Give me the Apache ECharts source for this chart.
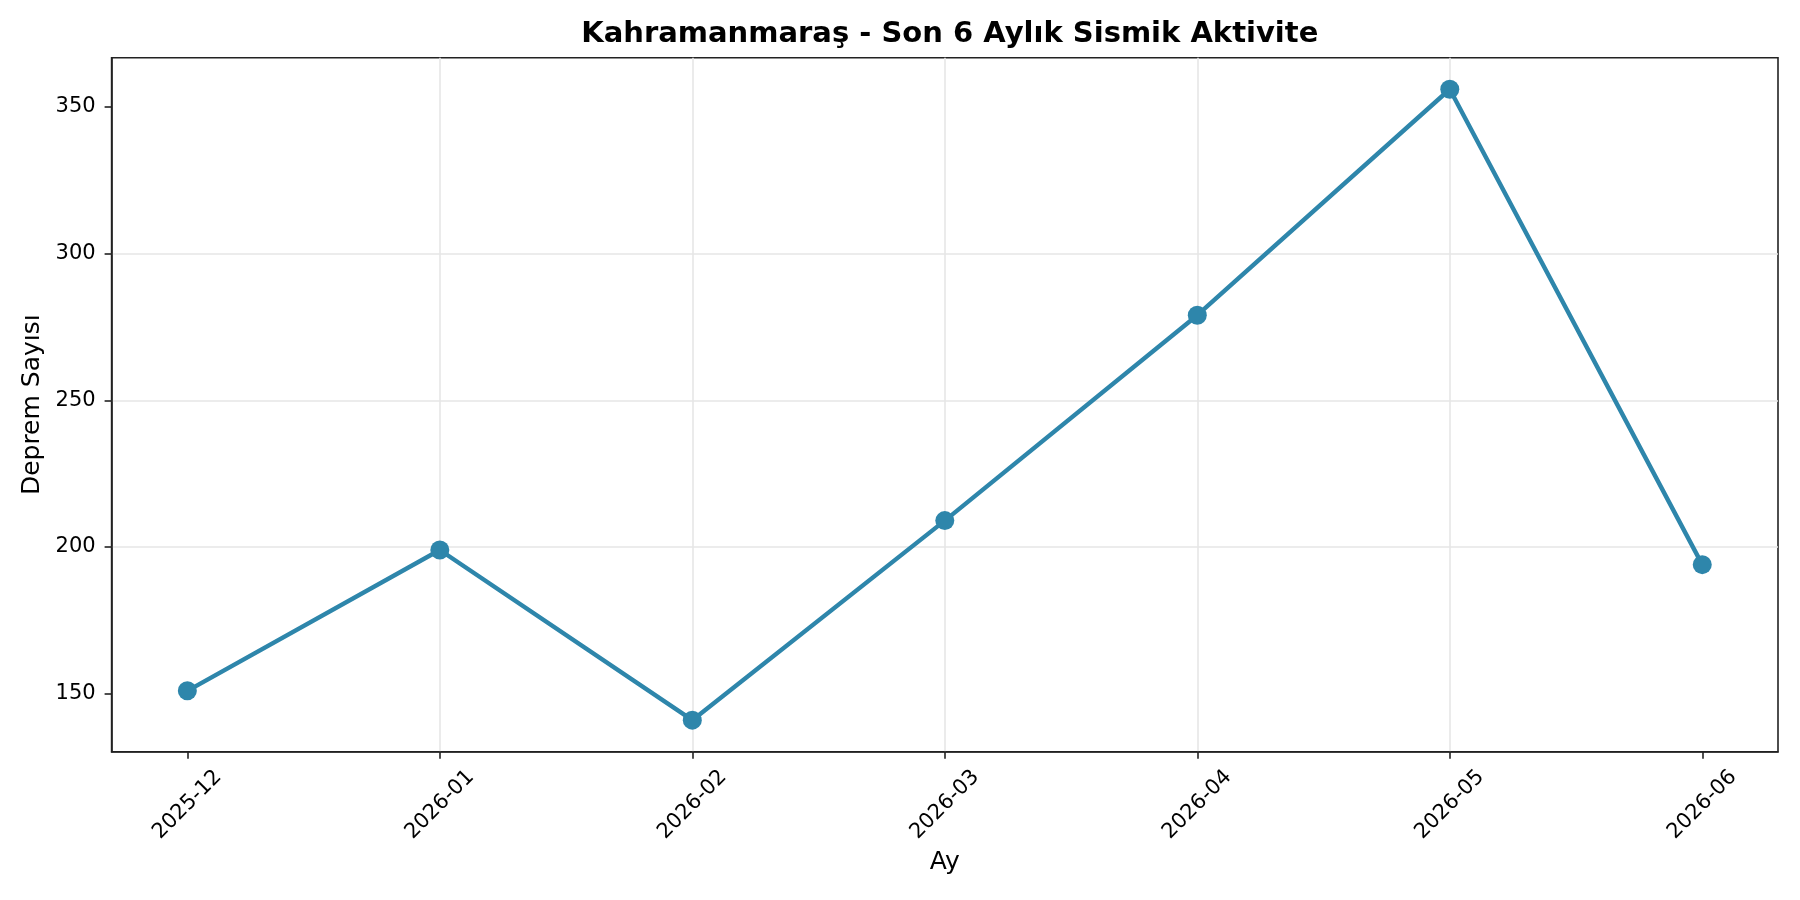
<!DOCTYPE html>
<html>
<head>
<meta charset="utf-8">
<script src="https://cdn.jsdelivr.net/npm/echarts@6/dist/echarts.min.js"></script>
<style>
html,body{margin:0;padding:0;background:#fff;}
#chart{width:1800px;height:900px;}
</style>
</head>
<body>
<div id="chart"></div>
<script>
const months = ['2025-12','2026-01','2026-02','2026-03','2026-04','2026-05','2026-06'];
const quakeCounts = [151, 199, 141, 209, 279, 356, 194];
const yTicks = [150, 200, 250, 300, 350];
const monthIdx = months.map((m, i) => i);

const lineData = quakeCounts.map((v, i) => [monthIdx[i], v]);
const font = 'DejaVu Sans';

const chart = echarts.init(document.getElementById('chart'), null, {renderer: 'canvas'});
chart.setOption({
  animation: false,
  backgroundColor: '#ffffff',
  title: {
    text: 'Kahramanmaraş - Son 6 Aylık Sismik Aktivite',
    left: 944.8, textAlign: 'center', top: 15,
    textStyle: {fontFamily: font, fontSize: 29, fontWeight: 'bold', color: '#000'}
  },
  grid: {
    left: 111.6, right: 22, top: 57.7, bottom: 148.3,
    show: true, borderColor: '#222', borderWidth: 1.6, backgroundColor: 'transparent'
  },
  xAxis: {
    type: 'value',
    min: -0.3, max: 6.3,
    minInterval: 1, maxInterval: 1,
    name: 'Ay', nameLocation: 'middle', nameGap: 96,
    nameTextStyle: {fontFamily: font, fontSize: 25, color: '#000'},
    axisLine: {show: true, onZero: false, lineStyle: {color: '#222', width: 1.6}},
    axisTick: {show: true, length: 7, customValues: monthIdx, lineStyle: {color: '#222', width: 1.6}},
    axisLabel: {
      customValues: monthIdx,
      formatter: v => months[Math.round(v)] || '',
      rotate: 45, align: 'center', verticalAlign: 'middle', margin: 53,
      fontFamily: font, fontSize: 21, color: '#000'
    },
    splitLine: {show: true, showMinLine: false, showMaxLine: false, lineStyle: {color: '#e6e6e6', width: 1.6}}
  },
  yAxis: {
    type: 'value',
    min: 130.25, max: 366.75,
    minInterval: 50, maxInterval: 50,
    name: 'Deprem Sayısı', nameLocation: 'middle', nameGap: 64,
    nameTextStyle: {fontFamily: font, fontSize: 25, color: '#000'},
    axisLine: {show: true, onZero: false, lineStyle: {color: '#222', width: 1.6}},
    axisTick: {show: true, length: 7, customValues: yTicks, lineStyle: {color: '#222', width: 1.6}},
    axisLabel: {customValues: yTicks, margin: 16, fontFamily: font, fontSize: 21, color: '#000'},
    splitLine: {show: true, showMinLine: false, showMaxLine: false, lineStyle: {color: '#e6e6e6', width: 1.6}}
  },
  series: [{
    type: 'line',
    data: lineData,
    symbol: 'circle', symbolSize: 19,
    lineStyle: {color: '#2E86AB', width: 4.4},
    itemStyle: {color: '#2E86AB'},
    z: 5
  }]
});
</script>
</body>
</html>
